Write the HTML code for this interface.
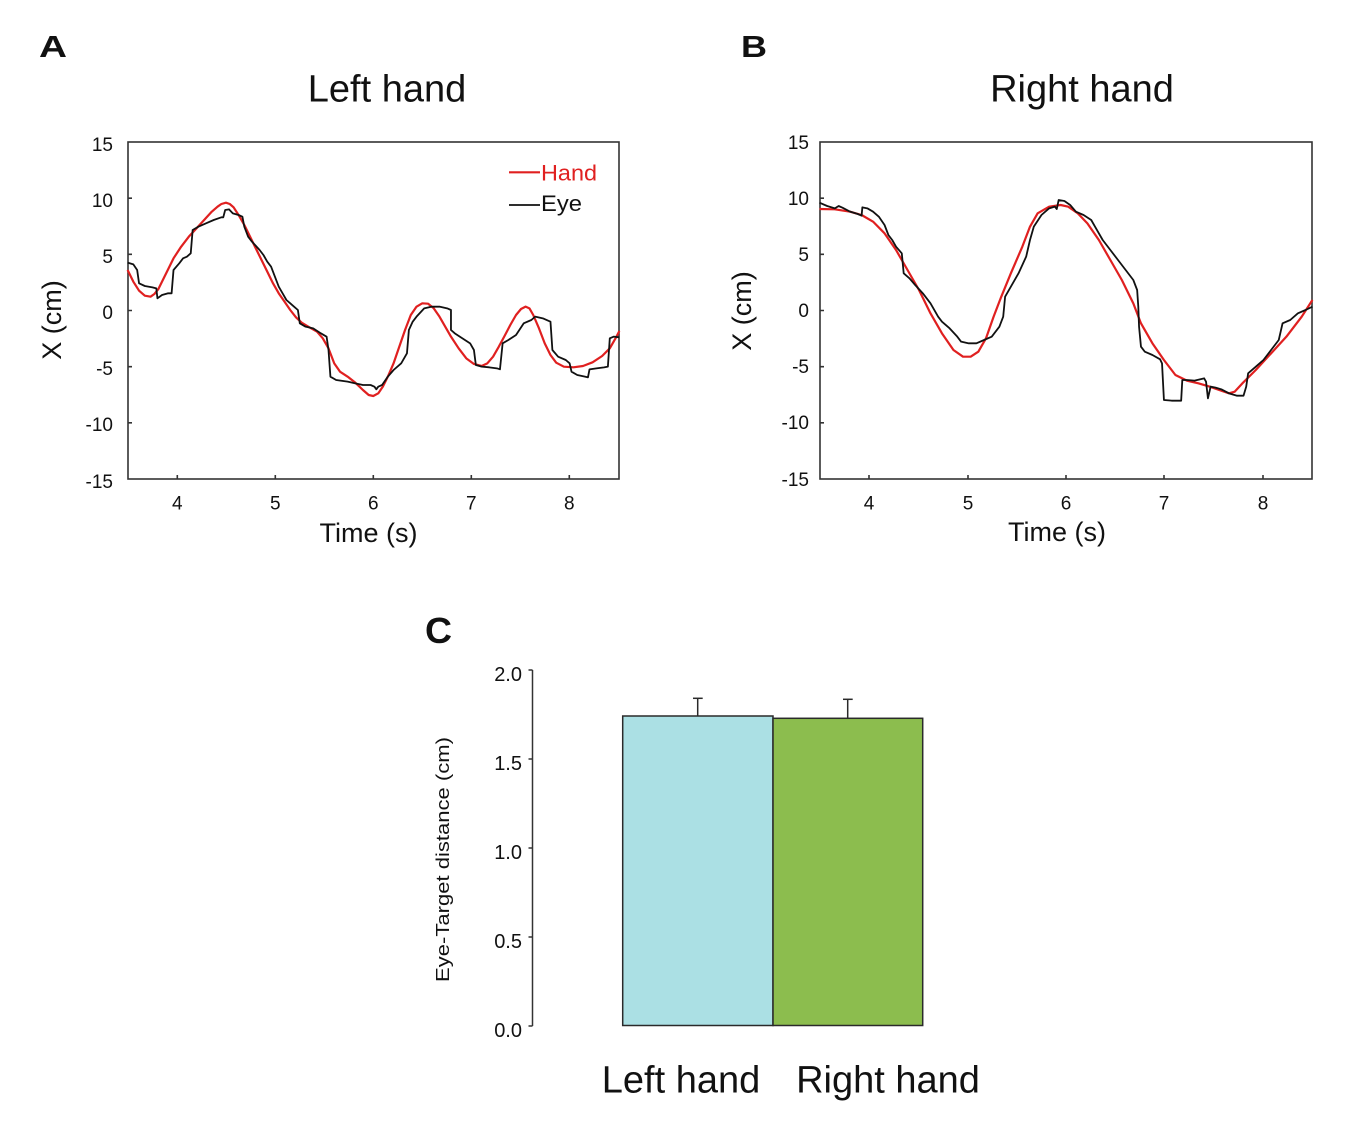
<!DOCTYPE html>
<html><head><meta charset="utf-8"><style>
html,body{margin:0;padding:0;background:#fff;}
svg{display:block;}
text{font-family:"Liberation Sans",Arial,sans-serif;fill:#111;}
</style></head><body>
<svg width="1368" height="1128" viewBox="0 0 1368 1128" xmlns="http://www.w3.org/2000/svg">
<rect width="1368" height="1128" fill="#fff"/>

<!-- Panel letters & titles -->
<text x="39" y="57" font-size="31" font-weight="bold" textLength="28" lengthAdjust="spacingAndGlyphs">A</text>
<text x="741" y="57" font-size="31" font-weight="bold" textLength="26" lengthAdjust="spacingAndGlyphs">B</text>
<text x="425" y="643" font-size="36" font-weight="bold" textLength="27" lengthAdjust="spacingAndGlyphs">C</text>
<text x="387" y="101.5" font-size="38" text-anchor="middle">Left hand</text>
<text x="1082" y="101.5" font-size="38" text-anchor="middle">Right hand</text>

<!-- ===== Panel A ===== -->
<g stroke="#333" stroke-width="1.6" fill="none">
  <rect x="128" y="142" width="491" height="337"/>
  <path d="M128 198.2h4M128 254.3h4M128 310.5h4M128 366.7h4M128 422.8h4"/>
  <path d="M177.3 479v-4M275.3 479v-4M373.3 479v-4M471.3 479v-4M569.3 479v-4"/>
</g>
<g font-size="19" text-anchor="end">
  <text x="113" y="151">15</text>
  <text x="113" y="207">10</text>
  <text x="113" y="263">5</text>
  <text x="113" y="319">0</text>
  <text x="113" y="375">-5</text>
  <text x="113" y="431">-10</text>
  <text x="113" y="488">-15</text>
</g>
<g font-size="19" text-anchor="middle">
  <text x="177.3" y="509.5">4</text>
  <text x="275.3" y="509.5">5</text>
  <text x="373.3" y="509.5">6</text>
  <text x="471.3" y="509.5">7</text>
  <text x="569.3" y="509.5">8</text>
</g>
<text x="368.5" y="542" font-size="27" text-anchor="middle">Time (s)</text>
<text transform="translate(61,320) rotate(-90)" font-size="27" text-anchor="middle">X (cm)</text>

<!-- legend -->
<line x1="509" y1="172.3" x2="540" y2="172.3" stroke="#e02020" stroke-width="2.2"/>
<text x="541" y="180.5" font-size="22" style="fill:#e02020" textLength="56" lengthAdjust="spacingAndGlyphs">Hand</text>
<line x1="509" y1="205" x2="540" y2="205" stroke="#111" stroke-width="1.8"/>
<text x="541" y="211" font-size="22" textLength="41" lengthAdjust="spacingAndGlyphs">Eye</text>

<g transform="translate(30,130) scale(0.3827,0.33333)" fill="none" stroke-linejoin="round">
<polyline vector-effect="non-scaling-stroke" stroke="#e02020" stroke-width="2.2" points="255,420 270,455 285,482 300,497 315,500 325,492 335,478 345,455 360,420 375,385 395,350 415,320 435,295 455,270 475,245 490,230 500,222 512,218 522,222 532,232 545,255 560,285 575,320 590,355 605,390 620,425 635,460 650,490 665,515 680,540 695,562 710,578 730,592 750,605 765,625 780,655 795,700 810,725 830,740 850,758 870,780 885,795 897,798 910,790 922,770 935,740 950,700 965,650 980,600 995,555 1010,530 1025,520 1040,521 1055,535 1070,560 1085,590 1100,620 1120,655 1140,685 1160,702 1180,708 1195,700 1210,680 1225,650 1240,618 1255,585 1270,555 1283,537 1295,530 1305,535 1315,555 1330,595 1345,640 1360,675 1375,698 1395,710 1420,712 1445,708 1470,697 1495,678 1515,655 1530,625 1540,603"/>
<polyline vector-effect="non-scaling-stroke" stroke="#111" stroke-width="1.8" points="255,398 270,403 280,420 285,460 300,468 320,472 330,475 333,505 345,495 360,490 370,490 375,420 390,400 400,385 410,380 420,370 425,300 440,290 460,280 480,270 500,262 505,262 510,240 520,238 530,250 545,255 555,260 560,290 570,320 580,335 600,360 610,375 620,395 630,410 640,440 650,470 660,490 670,510 680,520 690,530 700,540 705,580 720,590 740,595 760,610 775,620 780,660 785,740 800,750 830,755 850,760 870,765 890,765 900,770 905,778 910,770 920,765 935,740 950,720 970,700 985,670 990,600 1000,575 1010,560 1030,535 1050,530 1070,530 1090,535 1100,540 1100,600 1110,610 1130,625 1150,640 1160,660 1165,705 1180,710 1200,712 1220,715 1228,718 1235,640 1250,630 1270,615 1290,580 1310,570 1320,560 1340,565 1360,575 1365,660 1380,680 1400,690 1410,700 1415,725 1430,735 1450,740 1458,742 1462,718 1480,715 1500,712 1510,710 1515,625 1525,620 1540,622"/>
</g>

<!-- ===== Panel B ===== -->
<g stroke="#333" stroke-width="1.6" fill="none">
  <rect x="820" y="142" width="492" height="337"/>
  <path d="M820 198.2h4M820 254.3h4M820 310.5h4M820 366.7h4M820 422.8h4"/>
  <path d="M869 479v-4M968 479v-4M1066 479v-4M1164 479v-4M1263 479v-4"/>
</g>
<g font-size="19" text-anchor="end">
  <text x="809" y="149">15</text>
  <text x="809" y="205">10</text>
  <text x="809" y="261">5</text>
  <text x="809" y="317">0</text>
  <text x="809" y="373">-5</text>
  <text x="809" y="429">-10</text>
  <text x="809" y="486">-15</text>
</g>
<g font-size="19" text-anchor="middle">
  <text x="869" y="509.5">4</text>
  <text x="968" y="509.5">5</text>
  <text x="1066" y="509.5">6</text>
  <text x="1164" y="509.5">7</text>
  <text x="1263" y="509.5">8</text>
</g>
<text x="1057" y="541" font-size="27" text-anchor="middle">Time (s)</text>
<text transform="translate(751,311) rotate(-90)" font-size="27" text-anchor="middle">X (cm)</text>

<g transform="translate(720,130) scale(0.3827,0.33333)" fill="none" stroke-linejoin="round">
<polyline vector-effect="non-scaling-stroke" stroke="#e02020" stroke-width="2.2" points="260,237 300,238 340,245 370,255 400,275 430,310 460,360 490,420 520,480 550,550 580,610 610,660 635,680 655,680 675,665 695,625 715,560 735,500 760,430 790,350 810,290 830,250 860,230 890,225 910,230 935,250 960,280 990,330 1020,390 1050,450 1080,520 1100,580 1130,640 1160,690 1190,735 1220,752 1250,760 1280,770 1310,782 1330,790 1345,785 1365,760 1400,720 1440,670 1480,620 1520,560 1548,510"/>
<polyline vector-effect="non-scaling-stroke" stroke="#111" stroke-width="1.8" points="260,218 280,228 300,235 310,228 320,233 340,245 360,252 370,257 372,232 385,235 400,245 415,260 430,285 440,315 450,330 460,350 475,370 480,430 495,445 510,465 530,490 550,520 570,560 580,575 600,595 620,620 630,635 650,640 670,640 690,630 710,620 730,590 740,560 745,500 760,470 780,430 800,380 810,330 820,290 840,255 860,235 875,230 880,237 885,210 900,213 915,225 930,245 950,255 970,270 980,290 1000,330 1020,360 1040,390 1060,420 1080,450 1090,480 1093,530 1095,590 1100,650 1110,665 1130,675 1150,688 1155,700 1160,810 1180,812 1205,812 1208,750 1220,750 1240,752 1265,745 1270,755 1275,805 1282,770 1295,773 1310,778 1330,790 1350,797 1368,797 1375,770 1380,730 1400,710 1420,690 1440,660 1460,630 1470,580 1490,570 1510,550 1530,540 1548,530"/>
</g>

<!-- ===== Panel C ===== -->
<rect x="622.7" y="716" width="150.3" height="309.5" fill="#abe0e4" stroke="#2a2a2a" stroke-width="1.5"/>
<rect x="773" y="718.3" width="149.7" height="307.2" fill="#8cbd4e" stroke="#2a2a2a" stroke-width="1.5"/>
<g stroke="#2a2a2a" stroke-width="1.5">
  <line x1="697.7" y1="716" x2="697.7" y2="698.3"/>
  <line x1="693" y1="698.3" x2="702.7" y2="698.3"/>
  <line x1="847.7" y1="718.3" x2="847.7" y2="699.3"/>
  <line x1="843" y1="699.3" x2="852.7" y2="699.3"/>
</g>
<g stroke="#333" stroke-width="1.5" fill="none">
  <line x1="532.5" y1="670" x2="532.5" y2="1026"/>
  <path d="M528.5 670h4M528.5 759h4M528.5 848h4M528.5 937h4M528.5 1026h4"/>
</g>
<g font-size="20" text-anchor="end">
  <text x="522" y="681">2.0</text>
  <text x="522" y="770">1.5</text>
  <text x="522" y="859">1.0</text>
  <text x="522" y="948">0.5</text>
  <text x="522" y="1037">0.0</text>
</g>
<text transform="translate(449,859.5) rotate(-90)" font-size="18" text-anchor="middle" textLength="245" lengthAdjust="spacingAndGlyphs">Eye-Target distance (cm)</text>
<text x="681" y="1092.7" font-size="38" text-anchor="middle">Left hand</text>
<text x="888" y="1092.7" font-size="38" text-anchor="middle">Right hand</text>
</svg>
</body></html>
